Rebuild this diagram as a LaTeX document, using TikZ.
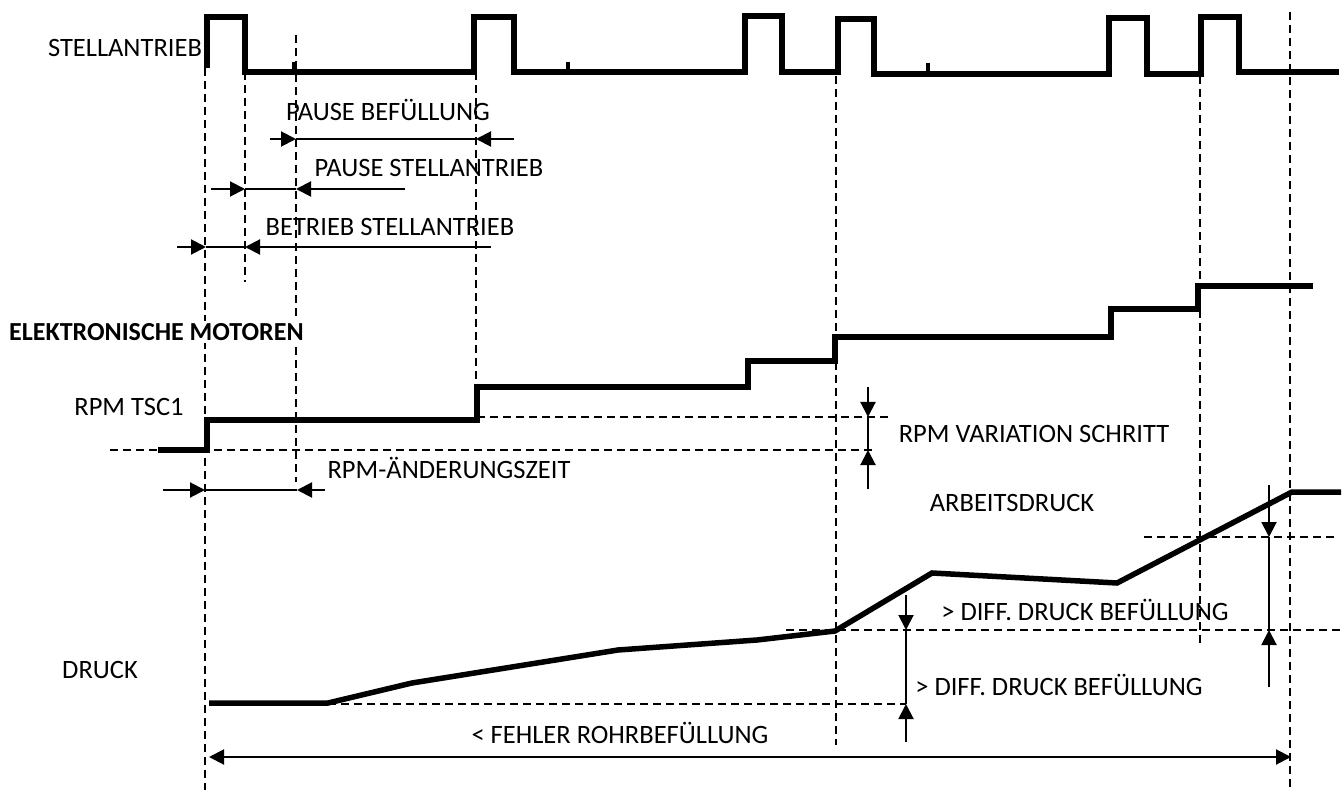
\documentclass[tikz,border=0pt]{standalone}
\usepackage{fontspec}
\setmainfont{Carlito}
\usetikzlibrary{arrows.meta}
\begin{document}
\begin{tikzpicture}[x=1pt,y=-1pt,
  sig/.style={line width=5.5pt, line join=miter},
  tick/.style={line width=3.5pt},
  guide/.style={line width=1.5pt, dash pattern=on 8pt off 5pt},
  dim/.style={line width=2pt},
  tip/.style={dim,-{Triangle[length=15pt,width=15pt]}},
  lbl/.style={font=\fontsize{26.5}{30}\selectfont, inner sep=0pt},
]
\useasboundingbox (0,0) rectangle (1344,791);

% vertical guides
\draw[guide] (205,68) -- (205,790);
\draw[guide] (245,72) -- (245,282);
\draw[guide] (296,35) -- (296,482);
\draw[guide] (476,72) -- (476,387);
\draw[guide] (836,76) -- (836,745);
\draw[guide] (1200,76) -- (1200,643);
\draw[guide] (1290,12) -- (1290,790);
% horizontal guides
\draw[guide] (110,450) -- (874,450);
\draw[guide] (477,417) -- (889,417);
\draw[guide] (328,704) -- (906,704);
\draw[guide] (786,630) -- (1344,630);
\draw[guide] (1144,537) -- (1335,537);

% labels
\node[lbl] (lStell) at (125,48) {STELLANTRIEB};
\node[lbl] (lPB) at (388,110) {PAUSE BEFÜLLUNG};
\node[lbl] (lPS) at (429,168) {PAUSE STELLANTRIEB};
\node[lbl] (lBS) at (390,227) {BETRIEB STELLANTRIEB};
\node[lbl, anchor=west, fill=white, inner ysep=2pt, font=\fontsize{26}{30}\selectfont\bfseries] (lEM) at (9,332) {ELEKTRONISCHE MOTOREN};
\node[lbl] (lRPM) at (129,407) {RPM TSC1};
\node[lbl] (lRA) at (449,468) {RPM-ÄNDERUNGSZEIT};
\node[lbl] (lRV) at (1034,434) {RPM VARIATION SCHRITT};
\node[lbl] (lAD) at (1012,503) {ARBEITSDRUCK};
\node[lbl] (lD1) at (1085,610) {> DIFF. DRUCK BEFÜLLUNG};
\node[lbl] (lD2) at (1059,685) {> DIFF. DRUCK BEFÜLLUNG};
\node[lbl] (lFE) at (620,733) {< FEHLER ROHRBEFÜLLUNG};
\node[lbl] (lDR) at (100,670) {DRUCK};

% signals
\draw[sig] (207,68) -- (207,17) -- (245,17) -- (245,72) -- (474,72) -- (474,17) -- (514,17) -- (514,72)
  -- (745,72) -- (745,16) -- (782,16) -- (782,72) -- (838,72) -- (838,19) -- (874,19) -- (874,74)
  -- (1109,74) -- (1109,18) -- (1147,18) -- (1147,74) -- (1201,74) -- (1201,17) -- (1239,17) -- (1239,72) -- (1339,72);
\draw[tick] (294,62) -- (294,72);
\draw[tick] (568,62) -- (568,72);
\draw[tick] (928,63) -- (928,74);

\draw[sig] (158,450) -- (207,450) -- (207,420) -- (477,420) -- (477,387) -- (748,387) -- (748,361)
  -- (835,361) -- (835,337) -- (1111,337) -- (1111,309) -- (1198,309) -- (1198,286) -- (1313,286);

\draw[sig] (209,703) -- (328,703) -- (412,683) -- (618,650) -- (757,640) -- (835,631) -- (932,573)
  -- (1117,583) -- (1292,492) -- (1341,492);

% dimension coordinates
\coordinate (pb1) at (270,139); \coordinate (pb2) at (296,139);
\coordinate (pb3) at (476,139); \coordinate (pb4) at (514,139);
\coordinate (ps1) at (211,189); \coordinate (ps2) at (245,189);
\coordinate (ps3) at (296,189); \coordinate (ps4) at (405,189);
\coordinate (bs1) at (177,247); \coordinate (bs2) at (206,247);
\coordinate (bs3) at (245,247); \coordinate (bs4) at (491,247);
\coordinate (ra1) at (163,490); \coordinate (ra2) at (205,490);
\coordinate (ra3) at (297,490); \coordinate (ra4) at (325,490);
\coordinate (rv1) at (868,387); \coordinate (rv2) at (868,417);
\coordinate (rv3) at (868,450); \coordinate (rv4) at (868,489);
\coordinate (d1) at (906,595); \coordinate (d2) at (906,630);
\coordinate (d3) at (906,704); \coordinate (d4) at (906,742);
\coordinate (e1) at (1269,485); \coordinate (e2) at (1269,537);
\coordinate (e3) at (1269,630); \coordinate (e4) at (1269,687);
\coordinate (f1) at (209,757); \coordinate (f2) at (1291,757);

\draw[tip] (pb1) -- (pb2); \draw[dim] (pb2) -- (pb3); \draw[tip] (pb4) -- (pb3);
\draw[tip] (ps1) -- (ps2); \draw[dim] (ps2) -- (ps3); \draw[tip] (ps4) -- (ps3);
\draw[tip] (bs1) -- (bs2); \draw[dim] (bs2) -- (bs3); \draw[tip] (bs4) -- (bs3);
\draw[tip] (ra1) -- (ra2); \draw[dim] (ra2) -- (ra3); \draw[tip] (ra4) -- (ra3);
\draw[tip] (rv1) -- (rv2); \draw[dim] (rv2) -- (rv3); \draw[tip] (rv4) -- (rv3);
\draw[tip] (d1) -- (d2); \draw[dim] (d2) -- (d3); \draw[tip] (d4) -- (d3);
\draw[tip] (e1) -- (e2); \draw[dim] (e2) -- (e3); \draw[tip] (e4) -- (e3);
\draw[dim,{Triangle[length=15pt,width=15pt]}-{Triangle[length=15pt,width=15pt]}] (f1) -- (f2);
\end{tikzpicture}
\end{document}
